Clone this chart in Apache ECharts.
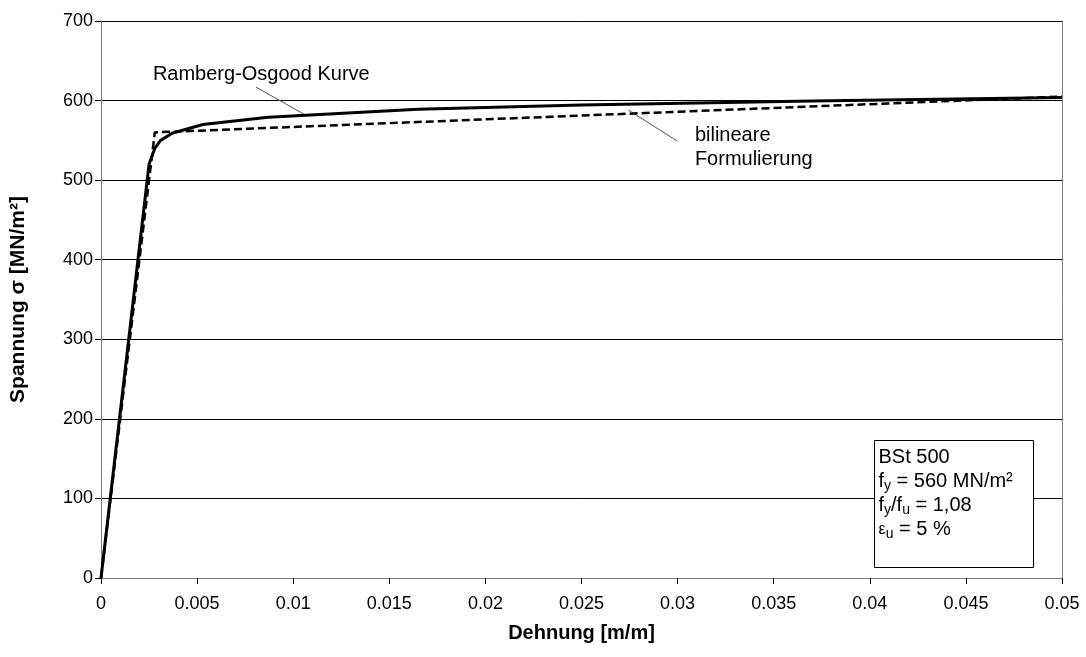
<!DOCTYPE html>
<html>
<head>
<meta charset="utf-8">
<script src="https://cdn.jsdelivr.net/npm/echarts@6/dist/echarts.min.js"></script>
<style>
html,body{margin:0;padding:0;background:#fff;}
#chart{width:1086px;height:657px;}
</style>
</head>
<body>
<div id="chart"></div>
<script>
// Ramberg-Osgood curve [strain, stress]
const rambergOsgood = [
  [0, 0], [0.0025, 520], [0.0028, 540], [0.0031, 550], [0.0037, 559],
  [0.0053, 570], [0.0087, 579], [0.0165, 589], [0.025, 594.5],
  [0.037, 599.5], [0.05, 604]
];
// Bilinear formulation [strain, stress]
const bilinear = [[0, 0], [0.0028, 560], [0.05, 605]];

const yTicks = [0, 100, 200, 300, 400, 500, 600, 700];
const xTicks = [0, 0.005, 0.01, 0.015, 0.02, 0.025, 0.03, 0.035, 0.04, 0.045, 0.05];

// Annotation anchors in data space
const roLeader = [[0.00806, 617], [0.01055, 583]];
const biLeader = [[0.02744, 588], [0.02999, 549]];
const roLabelAt = [0.0027, 632];
const biLabelAt = [0.0309, 556];

const FONT = '"Liberation Sans", Arial, sans-serif';

const chart = echarts.init(document.getElementById('chart'));
const option = {
  animation: false,
  backgroundColor: '#fff',
  grid: { left: 100, right: 24, top: 21, bottom: 79 },
  xAxis: {
    type: 'value', min: 0, max: 0.05, interval: 0.005,
    name: 'Dehnung [m/m]', nameLocation: 'middle', nameGap: 45,
    nameTextStyle: { fontFamily: FONT, fontSize: 20, fontWeight: 'bold', color: '#000' },
    axisLine: { show: true, lineStyle: { color: '#808080', width: 1 } },
    axisTick: { show: true, length: 6, lineStyle: { color: '#000' } },
    axisLabel: {
      fontFamily: FONT, fontSize: 18, color: '#000', margin: 17,
      formatter: v => String(parseFloat(v.toFixed(3)))
    },
    splitLine: { show: false }
  },
  yAxis: [{
    type: 'value', min: 0, max: 700, interval: 100,
    name: 'Spannung σ [MN/m²]', nameLocation: 'middle', nameGap: 72,
    nameTextStyle: { fontFamily: FONT, fontSize: 21, fontWeight: 'bold', color: '#000' },
    axisLine: { show: true, lineStyle: { color: '#808080', width: 1 } },
    axisTick: { show: true, length: 6, lineStyle: { color: '#000' } },
    axisLabel: { fontFamily: FONT, fontSize: 18, color: '#000', margin: 8 },
    splitLine: { show: true, lineStyle: { color: '#000', width: 1 } }
  }, {
    type: 'value', min: 0, max: 700, interval: 100, position: 'right',
    axisLine: { show: true, lineStyle: { color: '#808080', width: 1 } },
    axisTick: { show: false }, axisLabel: { show: false }, splitLine: { show: false }
  }],
  series: [
    {
      name: 'bilineare Formulierung', type: 'line', data: bilinear, symbol: 'none',
      lineStyle: { color: '#000', width: 2.5, type: [8, 4] }, z: 3
    },
    {
      name: 'Ramberg-Osgood Kurve', type: 'line', data: rambergOsgood, symbol: 'none',
      lineStyle: { color: '#000', width: 3 }, z: 4
    },
    {
      type: 'line', data: roLeader, symbol: 'none', silent: true,
      lineStyle: { color: '#555', width: 1 }, z: 2
    },
    {
      type: 'line', data: biLeader, symbol: 'none', silent: true,
      lineStyle: { color: '#555', width: 1 }, z: 2
    }
  ]
};
chart.setOption(option);

const p1 = chart.convertToPixel({ gridIndex: 0 }, roLabelAt);
const p2 = chart.convertToPixel({ gridIndex: 0 }, biLabelAt);
const textStyle = { fontFamily: FONT, fontSize: 20, fill: '#000' };
chart.setOption({
  graphic: [
    { type: 'text', left: p1[0], top: p1[1] - 11, style: Object.assign({ text: 'Ramberg-Osgood Kurve' }, textStyle) },
    { type: 'text', left: p2[0], top: p2[1] - 12, style: Object.assign({ text: 'bilineare\nFormulierung', lineHeight: 24 }, textStyle) },
    {
      type: 'group', left: 874, top: 440,
      children: [
        { type: 'rect', shape: { x: 0, y: 0, width: 159, height: 127 }, style: { fill: '#fff', stroke: '#000', lineWidth: 1 } },
        {
          type: 'text', x: 4, y: 5,
          style: {
            text: 'BSt 500\n{n|f}{s|y}{n| = 560 MN/m²}\n{n|f}{s|y}{n|/f}{s|u}{n| = 1,08}\n{e|ε}{s|u}{n| = 5 %}',
            fontFamily: FONT, fontSize: 20, fill: '#000', lineHeight: 24,
            rich: {
              n: { fontFamily: FONT, fontSize: 20, lineHeight: 24, fill: '#000' },
              e: { fontFamily: FONT, fontSize: 16, lineHeight: 24, fill: '#000' },
              s: { fontFamily: FONT, fontSize: 14, lineHeight: 24, fill: '#000', padding: [10, 0, 0, 0] }
            }
          }
        }
      ]
    }
  ]
});
</script>
</body>
</html>
